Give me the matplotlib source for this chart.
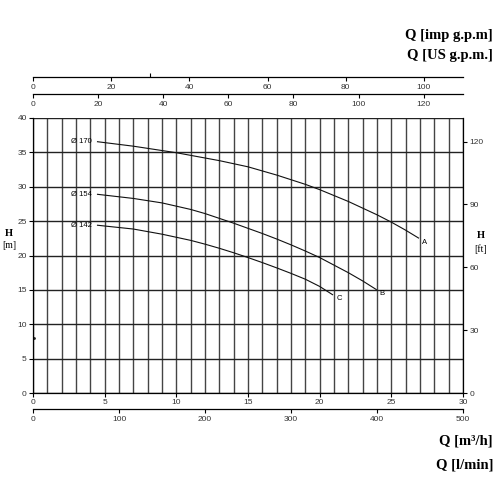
import numpy as np
import matplotlib
matplotlib.use("Agg")
import matplotlib.pyplot as plt

# pump curves, Q in m3/h, H in m
q_a = [4.5, 7, 10, 13, 15, 17, 19, 20, 22, 24, 25, 26, 26.9]
h_a = [36.55, 35.9, 34.95, 33.8, 32.9, 31.7, 30.35, 29.58, 27.86, 25.92, 24.85, 23.68, 22.54]
q_b = [4.5, 7, 9, 11, 12, 13, 14, 15, 16, 17, 18, 19, 20, 22, 23, 23.95]
h_b = [28.9, 28.3, 27.65, 26.7, 26.1, 25.4, 24.7, 23.95, 23.2, 22.4, 21.55, 20.65,
       19.7, 17.5, 16.3, 15.05]
q_c = [4.5, 7, 9, 11, 12, 13, 14, 15, 16, 17, 18, 19, 20, 20.9]
h_c = [24.4, 23.85, 23.1, 22.2, 21.65, 21.05, 20.4, 19.7, 18.97, 18.2, 17.4, 16.55, 15.5, 14.3]
diameters = ["Ø 170", "Ø 154", "Ø 142"]
curve_ids = ["A", "B", "C"]

q_max = 30
h_max = 40
m_to_ft = 3.2808
m3h_to_imp = 3.6662
m3h_to_us = 4.4029
m3h_to_lmin = 500 / 30

sans = "Liberation Sans"
serif = "Liberation Serif"
fs_tick = 6
tick_col = "#333"

fig = plt.figure(figsize=(5, 5), dpi=100)
L, W = 0.066, 0.86
ax = fig.add_axes([L, 0.214, W, 0.55])

# grid
ax.set_xlim(0, q_max)
ax.set_ylim(0, h_max)
ax.set_xticks(range(0, q_max + 1, 5))
ax.set_xticks(range(0, q_max + 1), minor=True)
ax.set_yticks(range(0, h_max + 1, 5))
ax.grid(True, which="both", axis="x", color="#444", lw=1.0)
ax.grid(True, which="major", axis="y", color="#222", lw=1.0)
ax.tick_params(axis="x", which="minor", length=0)
ax.tick_params(axis="both", which="major", length=3, width=0.8, labelsize=fs_tick,
               pad=1.5, labelcolor=tick_col)
for lab in ax.get_xticklabels() + ax.get_yticklabels():
    lab.set_family(sans)
ax.spines["top"].set_visible(False)
ax.spines["right"].set_visible(False)
for s in ("left", "bottom"):
    ax.spines[s].set_linewidth(0.9)

# curves
for q, h, d, c in zip([q_a, q_b, q_c], [h_a, h_b, h_c], diameters, curve_ids):
    ax.plot(q, h, color="#111", lw=0.8, solid_joinstyle="round")
    ax.text(q[0] - 0.4, h[0], d, ha="right", va="center", fontsize=5.5, family=sans)
    ax.text(q[-1] + 0.25, h[-1] - 0.6, c, ha="left", va="center", fontsize=5.5, family=sans)
ax.plot([0.05], [8], ".", ms=2, color="#222")

# right axis in ft
axr = ax.twinx()
axr.set_ylim(0, h_max * m_to_ft)
axr.set_yticks([0, 30, 60, 90, 120])
axr.tick_params(axis="y", length=3, width=0.8, labelsize=fs_tick, pad=1.5, labelcolor=tick_col)
for lab in axr.get_yticklabels():
    lab.set_family(sans)
axr.spines["top"].set_visible(False)
axr.spines["left"].set_visible(False)
axr.spines["bottom"].set_visible(False)
axr.spines["right"].set_linewidth(0.9)


def flow_axis(y, xmax, ticks, minor=None):
    a = fig.add_axes([L, y, W, 0.0001])
    a.set_xlim(0, xmax)
    a.set_xticks(ticks)
    a.set_yticks([])
    for s in ("top", "left", "right"):
        a.spines[s].set_visible(False)
    a.spines["bottom"].set_linewidth(0.9)
    a.tick_params(axis="x", length=3, width=0.8, labelsize=fs_tick, pad=1.5, labelcolor=tick_col)
    if minor is not None:
        a.set_xticks(minor, minor=True)
        a.tick_params(axis="x", which="minor", direction="in", length=3, width=0.8)
    for lab in a.get_xticklabels():
        lab.set_family(sans)
    a.patch.set_visible(False)
    return a


flow_axis(0.8454, q_max * m3h_to_imp, range(0, 101, 20), minor=[30])
flow_axis(0.8114, q_max * m3h_to_us, range(0, 121, 20))
flow_axis(0.1814, q_max * m3h_to_lmin, range(0, 501, 100))

# unit labels
fig.text(0.986, 0.93, "Q [imp g.p.m]", ha="right", va="center", fontsize=10.5,
         family=serif, weight="bold")
fig.text(0.986, 0.89, "Q [US g.p.m.]", ha="right", va="center", fontsize=10.5,
         family=serif, weight="bold")
fig.text(0.986, 0.118, "Q [m³/h]", ha="right", va="center", fontsize=10.5,
         family=serif, weight="bold")
fig.text(0.986, 0.07, "Q [l/min]", ha="right", va="center", fontsize=10.5,
         family=serif, weight="bold")
fig.text(0.018, 0.534, "H", ha="center", va="center", fontsize=7.5, family=serif, weight="bold")
fig.text(0.018, 0.508, "[m]", ha="center", va="center", fontsize=7, family=serif)
fig.text(0.962, 0.528, "H", ha="center", va="center", fontsize=7.5, family=serif, weight="bold")
fig.text(0.962, 0.502, "[ft]", ha="center", va="center", fontsize=7, family=serif)

fig.savefig("out.png", dpi=100)
